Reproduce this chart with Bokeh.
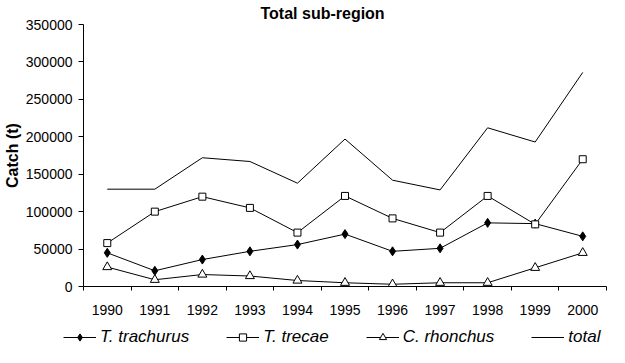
from bokeh.plotting import figure
from bokeh.layouts import column
from bokeh.models import Range1d, FixedTicker, BasicTickFormatter, Legend, LegendItem
from bokeh.embed import file_html
from bokeh.resources import INLINE

years = [1990, 1991, 1992, 1993, 1994, 1995, 1996, 1997, 1998, 1999, 2000]
trachurus = [45000, 21000, 36000, 47000, 56000, 70000, 47000, 51000, 85000, 84000, 67000]
trecae = [58000, 100000, 120000, 105000, 72000, 121000, 91000, 72000, 121000, 83000, 170000]
rhonchus = [26000, 9000, 16000, 14000, 8000, 5000, 3000, 5000, 5000, 25000, 45000]
total = [130000, 130000, 172000, 167000, 138000, 197000, 142000, 129000, 212000, 193000, 286000]
y_ticks = [0, 50000, 100000, 150000, 200000, 250000, 300000, 350000]

FONT = "Liberation Sans"
W = 609


def add_series(fig):
    r1l = fig.line(years, trachurus, line_color="black", line_width=1)
    r1m = fig.scatter(years, trachurus, marker="diamond", size=9, fill_color="black", line_color="black")
    r2l = fig.line(years, trecae, line_color="black", line_width=1)
    r2m = fig.scatter(years, trecae, marker="square", size=7, fill_color="white", line_color="black")
    r3l = fig.line(years, rhonchus, line_color="black", line_width=1)
    r3m = fig.scatter(years, rhonchus, marker="triangle", size=9, fill_color="white", line_color="black")
    r4l = fig.line(years, total, line_color="black", line_width=1)
    return [("T. trachurus", [r1l, r1m]), ("T. trecae", [r2l, r2m]),
            ("C. rhonchus", [r3l, r3m]), ("total", [r4l])]


p = figure(width=W, height=320, output_backend="svg", toolbar_location=None,
           x_range=Range1d(years[0] - 0.5, years[-1] + 0.5), y_range=Range1d(0, 350000),
           min_border_left=78, min_border_right=3, min_border_top=23, min_border_bottom=34)
p.frame_align = False
p.outline_line_color = None
p.xgrid.visible = False
p.ygrid.visible = False
p.background_fill_color = "white"

p.title.text = "Total sub-region"
p.title.align = "left"
p.title.offset = 177
p.title.standoff = 5
p.title.text_font = FONT
p.title.text_font_size = "16px"
p.title.text_font_style = "bold"
p.title.text_color = "black"

# x axis: labels at centres, ticks between categories
p.xaxis.ticker = FixedTicker(ticks=years, minor_ticks=[y - 0.5 for y in years] + [years[-1] + 0.5])
p.xaxis.major_tick_out = 0
p.xaxis.major_tick_in = 0
p.xaxis.minor_tick_out = 4
p.xaxis.minor_tick_in = 0
p.xaxis.minor_tick_line_color = "black"
p.xaxis.major_label_standoff = 14
p.xaxis.formatter = BasicTickFormatter(use_scientific=False)

p.yaxis.ticker = FixedTicker(ticks=y_ticks, minor_ticks=[])
p.yaxis.major_tick_out = 5
p.yaxis.major_tick_in = 0
p.yaxis.major_label_standoff = 6
p.yaxis.formatter = BasicTickFormatter(use_scientific=False)
p.yaxis.axis_label = "Catch (t)"
p.yaxis.axis_label_standoff = 2
p.yaxis.axis_label_text_font = FONT
p.yaxis.axis_label_text_font_size = "16px"
p.yaxis.axis_label_text_font_style = "bold"
p.yaxis.axis_label_text_color = "black"

for ax in (p.xaxis, p.yaxis):
    ax.major_label_text_font = FONT
    ax.major_label_text_font_size = "14px"
    ax.major_label_text_color = "black"
    ax.axis_line_color = "black"
    ax.major_tick_line_color = "black"

add_series(p)

# legend strip below the chart (series drawn out of view, used only for legend glyphs)
pl = figure(width=W, height=27, output_backend="svg", toolbar_location=None,
            x_range=Range1d(years[0] - 0.5, years[-1] + 0.5), y_range=Range1d(-2, -1),
            x_axis_location=None, y_axis_location=None,
            min_border_left=0, min_border_right=0, min_border_top=0, min_border_bottom=0)
pl.frame_align = False
pl.outline_line_color = None
pl.xgrid.visible = False
pl.ygrid.visible = False
items = add_series(pl)

legend = Legend(items=[LegendItem(label=lab, renderers=rs) for lab, rs in items],
                orientation="horizontal", location=(63, 0))
legend.label_text_font = FONT
legend.label_text_font_size = "17px"
legend.label_text_font_style = "italic"
legend.label_text_color = "black"
legend.label_height = 18
legend.glyph_height = 18
legend.glyph_width = 33
legend.label_standoff = 4
legend.spacing = 37
legend.padding = 0
legend.margin = 0
legend.border_line_color = None
legend.background_fill_alpha = 0
pl.add_layout(legend, "center")

layout = column(p, pl, spacing=0)
open("out.html", "w").write(file_html(layout, INLINE))
